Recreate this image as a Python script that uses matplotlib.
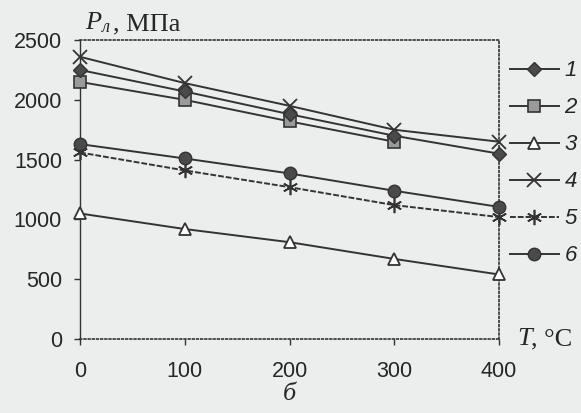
import matplotlib
matplotlib.use("Agg")
import matplotlib.pyplot as plt

plt.rcParams["mathtext.fontset"] = "custom"
plt.rcParams["mathtext.rm"] = "Liberation Serif"
plt.rcParams["mathtext.it"] = "Liberation Serif:italic"

T = [0, 100, 200, 300, 400]
T2 = [0, 100, 200, 300]
s1 = [2250, 2070, 1880, 1700, 1550]
s2 = [2150, 2000, 1820, 1650]
s3 = [1050, 920, 810, 670, 540]
s4 = [2360, 2140, 1950, 1750, 1650]
s5 = [1560, 1410, 1270, 1120, 1020]
s6 = [1630, 1510, 1385, 1240, 1105]
labels = ["1", "2", "3", "4", "5", "6"]
xticks = [0, 100, 200, 300, 400]
yticks = [0, 500, 1000, 1500, 2000, 2500]

bg = "#ebeeed"
lc = "#333333"
tc = "#262626"
fig = plt.figure(figsize=(5.81, 4.13), dpi=100, facecolor=bg)
ax = fig.add_axes([0.1377, 0.179, 0.7213, 0.724], facecolor=bg)

kw = dict(color=lc, lw=1.4, markersize=9, clip_on=False)
h1, = ax.plot(T, s1, marker="D", mfc="#4a4a4a", mec=lc, markersize=7, color=lc, lw=1.4,
              zorder=4, clip_on=False)
h2, = ax.plot(T2, s2, marker="s", mfc="#9a9a9a", mec=lc, mew=1.2, **kw, zorder=3)
h3, = ax.plot(T, s3, marker="^", mfc="white", mec=lc, mew=1.3, **kw, zorder=3)
h4, = ax.plot(T, s4, marker="x", mfc="none", mec=lc, mew=1.3, color=lc, lw=1.4,
              markersize=10, zorder=3, clip_on=False)
h5, = ax.plot(T, s5, marker=(6, 2, 0), mec=lc, mew=1.2, color=lc, lw=1.4, markersize=11,
              ls=(0, (3, 1)), zorder=3, clip_on=False)
h6, = ax.plot(T, s6, marker="o", mfc="#4a4a4a", mec=lc, **kw, zorder=3)

ax.set_xlim(0, 400)
ax.set_ylim(0, 2500)
ax.set_xticks(xticks)
ax.set_yticks(yticks)
ax.set_xticklabels([str(v) for v in xticks])
ax.set_yticklabels([str(v) for v in yticks])
ax.tick_params(axis="both", direction="out", length=4, color=lc, labelsize=15.5,
               labelcolor=tc, width=1)
ax.tick_params(axis="x", pad=12)
ax.tick_params(axis="y", pad=9)
for lab in ax.get_xticklabels() + ax.get_yticklabels():
    lab.set_fontfamily("Liberation Sans")

for side in ["top", "right", "bottom"]:
    ax.spines[side].set_color(lc)
    ax.spines[side].set_linewidth(1.2)
    ax.spines[side].set_linestyle((0, (1, 1.5)))
ax.spines["left"].set_color(lc)
ax.spines["left"].set_linewidth(1.0)

leg = ax.legend([h1, h2, h3, h4, h5, h6], labels, loc="upper left",
                bbox_to_anchor=(1.026, 0.932), frameon=False, handlelength=2.2,
                handletextpad=0.25, labelspacing=0.72, borderaxespad=0, borderpad=0,
                prop={"family": "Liberation Sans", "style": "italic", "size": 16})
for t in leg.get_texts():
    t.set_color(tc)

fig.text(0.147, 0.915, r"$P_{\mathit{л}}$", fontsize=19, color=tc, ha="left", va="bottom")
fig.text(0.194, 0.915, ", МПа", fontsize=19, family="Liberation Serif",
         color=tc, ha="left", va="bottom")
fig.text(0.890, 0.179, "T", fontsize=19, family="Liberation Serif", style="italic",
         color=tc, ha="left", va="center")
fig.text(0.914, 0.179, ", °C", fontsize=19, family="Liberation Serif",
         color=tc, ha="left", va="center")
fig.text(0.499, 0.045, "б", fontsize=19, family="Liberation Serif", style="italic",
         color=tc, ha="center", va="center")

fig.savefig("out.png", dpi=100, facecolor=bg)
